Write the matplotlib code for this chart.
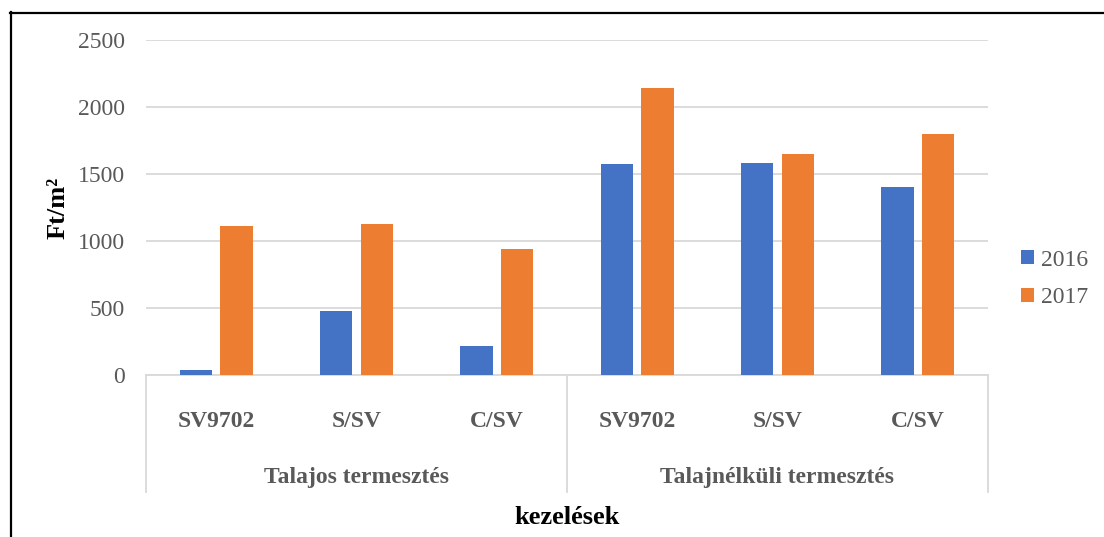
import matplotlib.pyplot as plt
from matplotlib.lines import Line2D
import numpy as np

plt.rcParams['font.family'] = ['Liberation Serif', 'DejaVu Serif']

categories = ["SV9702", "S/SV", "C/SV", "SV9702", "S/SV", "C/SV"]
groups = ["Talajos termesztés", "Talajnélküli termesztés"]
y2016 = [35, 478, 216, 1575, 1582, 1403]
y2017 = [1112, 1127, 940, 2142, 1649, 1799]
years = ["2016", "2017"]
yticks = [0, 500, 1000, 1500, 2000, 2500]

fig = plt.figure(figsize=(11.04, 5.37), dpi=100)
ax = fig.add_axes([146 / 1104, 1 - 375 / 537, (988 - 146) / 1104, 335 / 537])

x = np.arange(len(categories))
w = 0.23
off = 0.145
ax.bar(x - off, y2016, w, color="#4472C4", label=years[0], zorder=3)
ax.bar(x + off, y2017, w, color="#ED7D31", label=years[1], zorder=3)

ax.set_xlim(-0.5, len(categories) - 0.5)
ax.set_ylim(0, 2500)
ax.set_yticks(yticks)
ax.yaxis.grid(True, color="#d9d9d9", lw=1.3, zorder=0)
ax.set_xticks([])
ax.tick_params(axis="y", length=0, pad=15, labelsize=17, labelcolor="#595959")
for s in ["top", "right", "left"]:
    ax.spines[s].set_visible(False)
ax.spines["bottom"].set_color("#d9d9d9")
ax.spines["bottom"].set_linewidth(1.3)

# multi-level category axis
tr = ax.get_xaxis_transform()
for xv in [-0.5, 2.5, 5.5]:
    ax.add_line(Line2D([xv, xv], [0, -0.35], transform=tr, color="#d9d9d9", lw=1.3, clip_on=False))
for xi, c in zip(x, categories):
    ax.text(xi, -0.14, c, transform=tr, ha="center", va="center", fontsize=17,
            fontweight="bold", color="#595959")
for gi, g in enumerate(groups):
    ax.text(gi * 3 + 1, -0.307, g, transform=tr, ha="center", va="center", fontsize=17,
            fontweight="bold", color="#595959")

fig.text(567 / 1104, 1 - 518 / 537, "kezelések", ha="center", va="center",
         fontsize=19, fontweight="bold")
fig.text(58 / 1104, 1 - 208 / 537, "Ft/m²", ha="center", va="center", rotation=90,
         fontsize=19, fontweight="bold")

leg = fig.legend(loc="center left", bbox_to_anchor=(1000 / 1104, 1 - 279 / 537), frameon=False,
                 fontsize=17, handlelength=0.55, handleheight=0.55, handletextpad=0.3,
                 labelspacing=0.7)
for t in leg.get_texts():
    t.set_color("#595959")

# frame lines
fig.add_artist(Line2D([10 / 1104, 1], [1 - 12.5 / 537] * 2, transform=fig.transFigure, color="black", lw=1.6))
fig.add_artist(Line2D([10.5 / 1104] * 2, [0, 1 - 12 / 537], transform=fig.transFigure, color="black", lw=1.6))

fig.savefig("out.png", dpi=100)
